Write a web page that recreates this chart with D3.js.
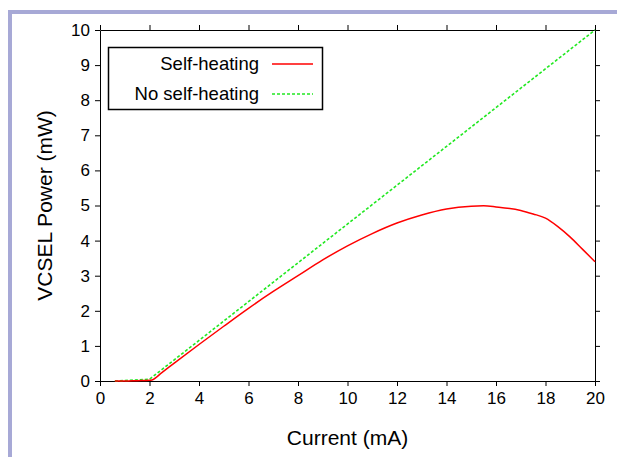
<!DOCTYPE html>
<html>
<head>
    <script src="https://cdnjs.cloudflare.com/ajax/libs/d3/7.8.5/d3.min.js"></script>
    <style>
        body { margin: 0; background: #fff; }
        svg { display: block; font-family: Arial, "Liberation Sans", sans-serif; }
        .axis path, .axis line { stroke: #000; }
        .axis text { font-size: 17px; fill: #000; font-family: Arial, "Liberation Sans", sans-serif; }
    </style>
</head>
<body>
    <div id="chart"></div>
    <script>
        // data
        const selfCurrent = [0.6, 1, 1.5, 2, 2.1, 2.5, 3, 4, 5, 6, 7, 8, 9, 10, 11, 12, 13, 14, 15, 15.5, 16, 17, 17.5, 18, 18.5, 19, 19.5, 20];
        const selfPower   = [0, 0, 0.01, 0.02, 0.03, 0.24, 0.51, 1.04, 1.56, 2.07, 2.55, 3.0, 3.45, 3.85, 4.2, 4.5, 4.73, 4.9, 4.98, 4.99, 4.96, 4.86, 4.76, 4.64, 4.4, 4.1, 3.75, 3.4];
        const noCurrent = [0.6, 2, 20];
        const noPower   = [0, 0.05, 10];
        const xTicks = [0, 2, 4, 6, 8, 10, 12, 14, 16, 18, 20];
        const yTicks = [0, 1, 2, 3, 4, 5, 6, 7, 8, 9, 10];

        const width = 617, height = 457;
        const plotL = 100, plotR = 595, plotT = 30, plotB = 381;

        const svg = d3.select("#chart").append("svg")
            .attr("width", width)
            .attr("height", height);

        // lavender frame
        svg.append("rect").attr("x", 8).attr("y", 10).attr("width", 4).attr("height", height - 10).attr("fill", "#a7a9d6");
        svg.append("rect").attr("x", 8).attr("y", 10).attr("width", width - 8).attr("height", 4).attr("fill", "#a7a9d6");

        const x = d3.scaleLinear().domain([0, 20]).range([plotL, plotR]);
        const y = d3.scaleLinear().domain([0, 10]).range([plotB, plotT]);

        svg.append("g").attr("class", "axis")
            .attr("transform", `translate(0,${plotB})`)
            .call(d3.axisBottom(x).tickValues(xTicks).tickSize(5).tickSizeOuter(0).tickPadding(6));
        svg.append("g").attr("class", "axis")
            .attr("transform", `translate(0,${plotT})`)
            .call(d3.axisTop(x).tickValues(xTicks).tickSize(5).tickSizeOuter(0).tickFormat(""));
        svg.append("g").attr("class", "axis")
            .attr("transform", `translate(${plotL},0)`)
            .call(d3.axisLeft(y).tickValues(yTicks).tickSize(5).tickSizeOuter(0).tickPadding(5));
        svg.append("g").attr("class", "axis")
            .attr("transform", `translate(${plotR},0)`)
            .call(d3.axisRight(y).tickValues(yTicks).tickSize(5).tickSizeOuter(0).tickFormat(""));

        const line = d3.line().x(d => x(d[0])).y(d => y(d[1]));

        svg.append("path")
            .datum(noCurrent.map((c, i) => [c, noPower[i]]))
            .attr("fill", "none")
            .attr("stroke", "#22e822")
            .attr("stroke-width", 1.6)
            .attr("stroke-dasharray", "3,2")
            .attr("d", line);

        svg.append("path")
            .datum(selfCurrent.map((c, i) => [c, selfPower[i]]))
            .attr("fill", "none")
            .attr("stroke", "#f00")
            .attr("stroke-width", 1.5)
            .attr("d", line.curve(d3.curveMonotoneX));

        // legend
        const lg = svg.append("g");
        lg.append("rect").attr("x", 108.5).attr("y", 47.5).attr("width", 214).attr("height", 62)
            .attr("fill", "#fff").attr("stroke", "#000").attr("stroke-width", 1.5);
        const items = [
            { label: "Self-heating", color: "#f00", dash: null, yy: 64 },
            { label: "No self-heating", color: "#22e822", dash: "3,2", yy: 94 }
        ];
        items.forEach(it => {
            lg.append("text").attr("x", 259).attr("y", it.yy + 6)
                .attr("text-anchor", "end").attr("font-size", 18.5).text(it.label);
            lg.append("line").attr("x1", 272).attr("x2", 313).attr("y1", it.yy).attr("y2", it.yy)
                .attr("stroke", it.color).attr("stroke-width", 1.6)
                .attr("stroke-dasharray", it.dash);
        });

        // axis titles
        svg.append("text").attr("x", (plotL + plotR) / 2).attr("y", 445)
            .attr("text-anchor", "middle").attr("font-size", 21).text("Current (mA)");
        svg.append("text")
            .attr("transform", `translate(52,${(plotT + plotB) / 2}) rotate(-90)`)
            .attr("text-anchor", "middle").attr("font-size", 21).text("VCSEL Power (mW)");
    </script>
</body>
</html>
